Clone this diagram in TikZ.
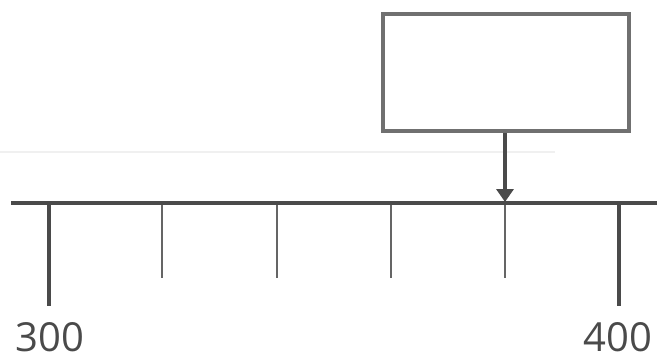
\documentclass[tikz,border=0pt]{standalone}
\usepackage{fontspec}
\setmainfont{Open Sans}
\usetikzlibrary{arrows.meta}
\definecolor{axisgray}{HTML}{4A4A4A}
\definecolor{boxgray}{HTML}{707070}
\begin{document}
\begin{tikzpicture}[x=1pt,y=-1pt,
  axisline/.style={draw=axisgray,line width=4pt},
  majortick/.style={draw=axisgray,line width=4pt},
  minortick/.style={draw=axisgray!85,line width=1.3pt},
  labelbox/.style={draw=boxgray,line width=4pt,fill=white,minimum width=246pt,minimum height=117pt,inner sep=0pt},
  ticklabel/.style={font=\fontsize{40}{44}\selectfont,text=axisgray,inner sep=0pt,anchor=north},
  pointer/.style={draw=axisgray,line width=3.5pt,-{Triangle[length=13pt,width=17pt]}}]
\useasboundingbox (0,0) rectangle (659,360);
\draw[gray!12,line width=1.5pt] (0,152) -- (555,152);
\coordinate (al) at (11,203);
\coordinate (ar) at (657,203);
\draw[axisline] (al) -- (ar);
\coordinate (t0) at (49,203);
\coordinate (t0e) at (49,306);
\coordinate (t5) at (619,203);
\coordinate (t5e) at (619,306);
\draw[majortick] (t0) -- (t0e);
\draw[majortick] (t5) -- (t5e);
\foreach \x/\n in {162/1,277/2,391/3,505/4}{
  \coordinate (m\n) at (\x,205);
  \coordinate (m\n e) at (\x,278);
  \draw[minortick] (m\n) -- (m\n e);
}
\node[labelbox] (box) at (506,72.5) {};
\coordinate (tgt) at (505,202);
\draw[pointer] (box.south -| tgt) -- (tgt);
\node[ticklabel] (l300) at (50,322) {300};
\node[ticklabel] (l400) at (618,322) {400};
\end{tikzpicture}
\end{document}
